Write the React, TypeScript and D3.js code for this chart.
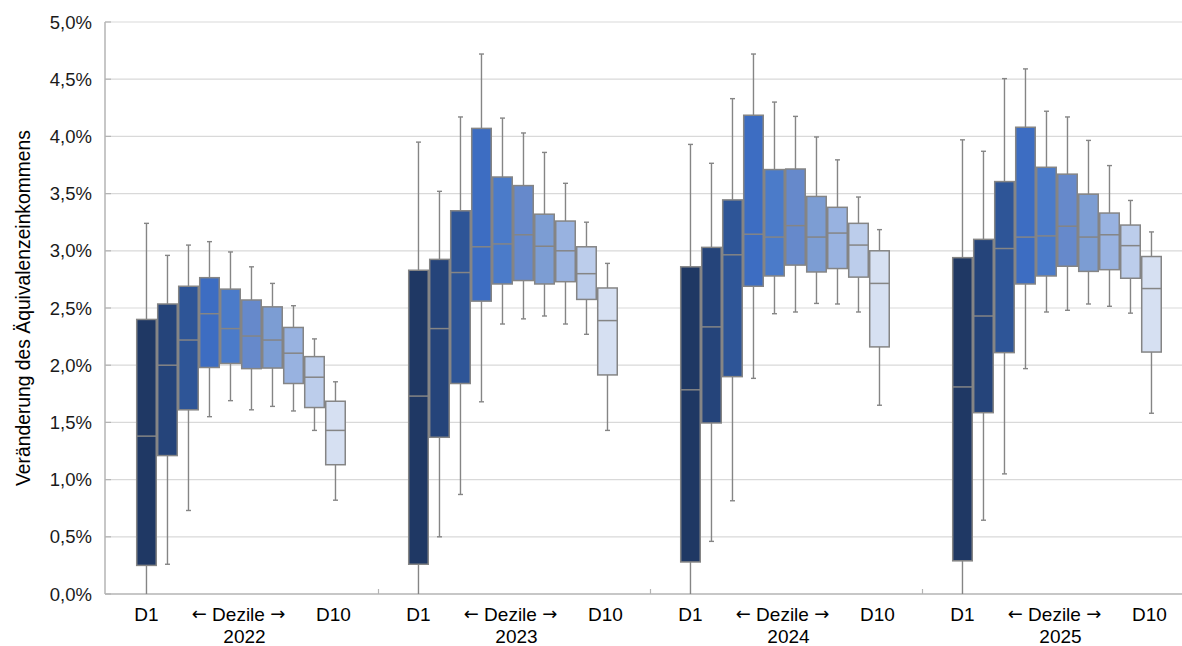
import React from "react";
import * as d3 from "d3";

// Categories
const years = ["2022", "2023", "2024", "2025"];
const deciles = ["D1", "D2", "D3", "D4", "D5", "D6", "D7", "D8", "D9", "D10"];
const yTicks = [0, 0.5, 1, 1.5, 2, 2.5, 3, 3.5, 4, 4.5, 5];
const decileColors = [
  "#1f3864", "#25447a", "#2e5597", "#3d6dc2", "#4b7bc9",
  "#6689cb", "#7c9dd3", "#98b2e0", "#bccdeb", "#d6e0f2",
];

// Each row: [lower whisker, Q1, median, Q3, upper whisker] in %
const box2022 = [
  [0.0, 0.25, 1.38, 2.40, 3.24],
  [0.26, 1.21, 2.0, 2.535, 2.96],
  [0.73, 1.61, 2.22, 2.69, 3.05],
  [1.55, 1.98, 2.45, 2.765, 3.08],
  [1.69, 2.015, 2.32, 2.665, 2.99],
  [1.61, 1.97, 2.255, 2.57, 2.86],
  [1.64, 1.975, 2.22, 2.51, 2.715],
  [1.60, 1.84, 2.105, 2.33, 2.52],
  [1.43, 1.63, 1.895, 2.075, 2.23],
  [0.82, 1.13, 1.43, 1.685, 1.855],
];
const box2023 = [
  [0.0, 0.26, 1.73, 2.83, 3.95],
  [0.50, 1.37, 2.32, 2.925, 3.52],
  [0.87, 1.84, 2.81, 3.35, 4.17],
  [1.68, 2.56, 3.035, 4.07, 4.72],
  [2.36, 2.71, 3.06, 3.645, 4.16],
  [2.405, 2.74, 3.14, 3.57, 4.03],
  [2.43, 2.71, 3.04, 3.32, 3.86],
  [2.36, 2.73, 3.0, 3.26, 3.59],
  [2.27, 2.575, 2.80, 3.035, 3.25],
  [1.43, 1.915, 2.39, 2.675, 2.89],
];
const box2024 = [
  [0.0, 0.28, 1.785, 2.86, 3.93],
  [0.46, 1.495, 2.335, 3.03, 3.765],
  [0.815, 1.90, 2.965, 3.445, 4.33],
  [1.885, 2.69, 3.145, 4.185, 4.72],
  [2.45, 2.78, 3.12, 3.71, 4.30],
  [2.465, 2.875, 3.22, 3.715, 4.175],
  [2.54, 2.815, 3.12, 3.475, 3.995],
  [2.535, 2.845, 3.155, 3.38, 3.795],
  [2.465, 2.77, 3.05, 3.24, 3.47],
  [1.65, 2.16, 2.715, 3.0, 3.185],
];
const box2025 = [
  [0.0, 0.29, 1.81, 2.94, 3.97],
  [0.645, 1.585, 2.43, 3.10, 3.87],
  [1.05, 2.11, 3.02, 3.605, 4.505],
  [1.97, 2.71, 3.12, 4.08, 4.59],
  [2.465, 2.78, 3.13, 3.73, 4.22],
  [2.48, 2.865, 3.215, 3.67, 4.17],
  [2.535, 2.82, 3.12, 3.495, 3.965],
  [2.515, 2.835, 3.14, 3.33, 3.745],
  [2.455, 2.76, 3.045, 3.225, 3.44],
  [1.58, 2.115, 2.67, 2.95, 3.165],
];
const boxesByYear = [box2022, box2023, box2024, box2025];

const W = 1182;
const H = 646;
const FONT = "'Liberation Sans', Arial, Helvetica, sans-serif";
const ARROW_FONT = "'DejaVu Sans', sans-serif";

export default function App() {
  const plotLeft = 105;
  const plotTop = 22;
  const plotBottom = 594;
  const groupStart = 106.5;
  const groupStep = 272;

  const y = d3.scaleLinear().domain([0, 5]).range([plotBottom, plotTop]);
  const xGroup = d3
    .scaleBand<string>()
    .domain(years)
    .range([groupStart, groupStart + groupStep * years.length])
    .padding(0);
  const xDec = d3
    .scaleBand<string>()
    .domain(deciles)
    .range([0, xGroup.bandwidth()])
    .paddingInner(0.07)
    .paddingOuter(1.511)
    .align(0.476);
  const bw = xDec.bandwidth();
  const fmt = (v: number) => v.toFixed(1).replace(".", ",") + "%";

  const axisColor = "#b4b4b4";
  const gridColor = "#d9d9d9";
  const lineGray = "#858585";

  return (
    <svg
      width={W}
      height={H}
      style={{ position: "absolute", left: 0, top: 0, background: "#fff" }}
      fontFamily={FONT}
    >
      {/* gridlines */}
      {yTicks.map((t) => (
        <line
          key={"g" + t}
          x1={plotLeft}
          x2={W}
          y1={y(t)}
          y2={y(t)}
          stroke={t === 0 ? axisColor : gridColor}
          strokeWidth={t === 0 ? 1.5 : 1.2}
        />
      ))}
      {/* y axis */}
      <line x1={plotLeft} x2={plotLeft} y1={plotTop} y2={plotBottom} stroke={axisColor} strokeWidth={1.5} />
      {yTicks.map((t) => (
        <g key={"t" + t}>
          <line x1={plotLeft} x2={plotLeft + 6} y1={y(t)} y2={y(t)} stroke={axisColor} strokeWidth={1.2} />
          <text x={92} y={y(t)} dy="0.36em" textAnchor="end" fontSize={18.5} fill="#1a1a1a">
            {fmt(t)}
          </text>
        </g>
      ))}
      {/* group separator ticks */}
      {years.slice(1).map((yr) => (
        <line
          key={"s" + yr}
          x1={xGroup(yr)!}
          x2={xGroup(yr)!}
          y1={plotBottom}
          y2={plotBottom - 5}
          stroke={axisColor}
          strokeWidth={1.2}
        />
      ))}
      {/* boxes */}
      {years.map((yr, gi) => {
        const gx = xGroup(yr)!;
        return (
          <g key={yr}>
            {boxesByYear[gi].map((s, i) => {
              const [lo, q1, med, q3, hi] = s;
              const x0 = gx + xDec(deciles[i])!;
              const cx = x0 + bw / 2;
              return (
                <g key={i}>
                  <line x1={cx} x2={cx} y1={y(hi)} y2={y(q3)} stroke={lineGray} strokeWidth={1.4} />
                  <line x1={cx} x2={cx} y1={y(q1)} y2={y(lo)} stroke={lineGray} strokeWidth={1.4} />
                  <line x1={cx - 2.5} x2={cx + 2.5} y1={y(hi)} y2={y(hi)} stroke={lineGray} strokeWidth={1.4} />
                  {lo > 0 && (
                    <line x1={cx - 2.5} x2={cx + 2.5} y1={y(lo)} y2={y(lo)} stroke={lineGray} strokeWidth={1.4} />
                  )}
                  <rect
                    x={x0}
                    y={y(q3)}
                    width={bw}
                    height={y(q1) - y(q3)}
                    fill={decileColors[i]}
                    stroke={lineGray}
                    strokeWidth={1.5}
                  />
                  <line x1={x0} x2={x0 + bw} y1={y(med)} y2={y(med)} stroke={lineGray} strokeWidth={1.5} />
                </g>
              );
            })}
            <text x={gx + xDec("D1")! + bw / 2} y={621} textAnchor="middle" fontSize={19} fill="#000">
              D1
            </text>
            <text x={gx + xGroup.bandwidth() / 2 - 4} y={621} textAnchor="middle" fontSize={19} fill="#000">
              <tspan fontFamily={ARROW_FONT} fontSize={18} dy={-1}>{"\u2190"}</tspan>
              <tspan dy={1}>{" Dezile "}</tspan>
              <tspan fontFamily={ARROW_FONT} fontSize={18} dy={-1}>{"\u2192"}</tspan>
            </text>
            <text x={gx + xDec("D10")! + bw / 2 - 2} y={621} textAnchor="middle" fontSize={19} fill="#000">
              D10
            </text>
            <text x={gx + xGroup.bandwidth() / 2 + 2} y={643} textAnchor="middle" fontSize={19} fill="#000">
              {yr}
            </text>
          </g>
        );
      })}
      {/* y axis title */}
      <text
        transform={`translate(30, ${(plotTop + plotBottom) / 2}) rotate(-90)`}
        textAnchor="middle"
        fontSize={19.3}
        fill="#000"
      >
        Veränderung des Äquivalenzeinkommens
      </text>
    </svg>
  );
}
